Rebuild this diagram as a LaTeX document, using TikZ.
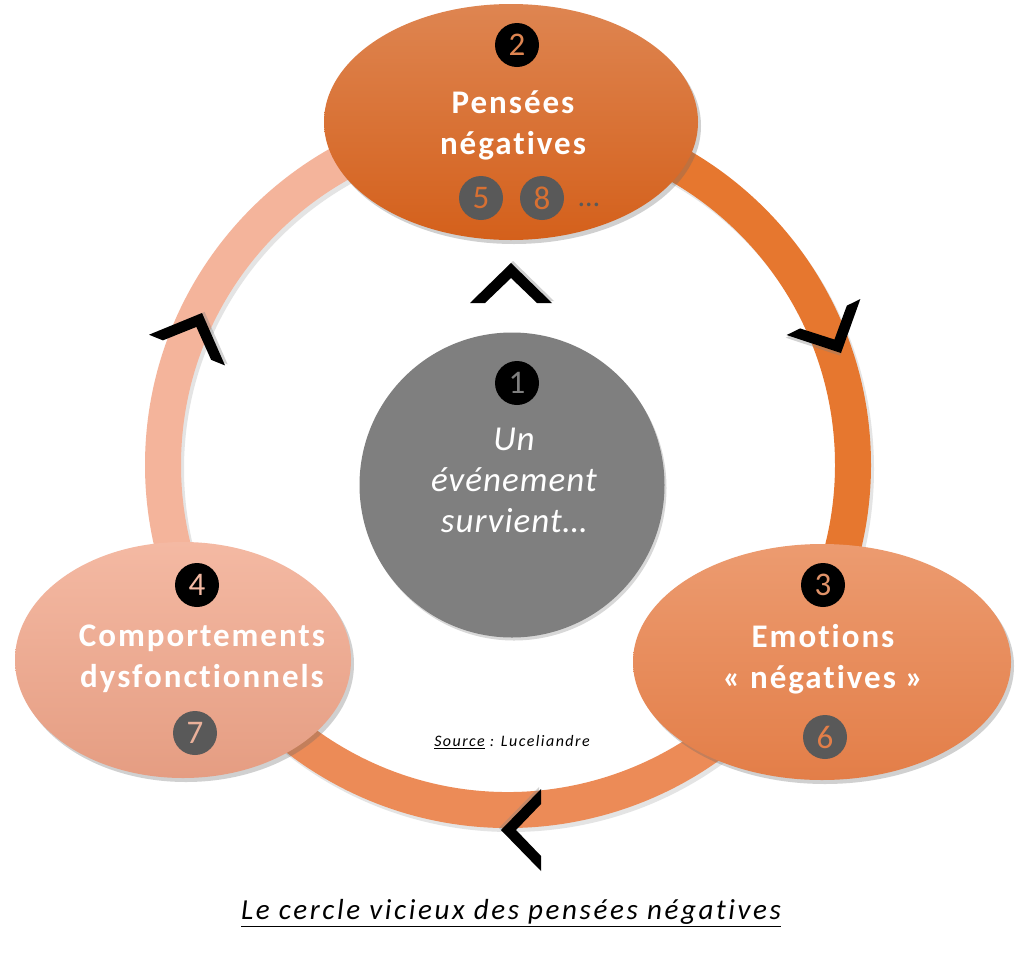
\documentclass[tikz,border=0pt]{standalone}
\usepackage{fontspec}
\setmainfont{Carlito}
\newfontfamily\lblfont[LetterSpace=6,Ligatures=NoCommon]{Carlito}
\newfontfamily\evfont[LetterSpace=3,Ligatures=NoCommon]{Carlito}
\newfontfamily\capfont[LetterSpace=9,Ligatures=NoCommon]{Carlito}
\usetikzlibrary{shapes.geometric,shadows}
\definecolor{ringL}{HTML}{F4B49B}
\definecolor{ringR}{HTML}{E6772F}
\definecolor{ringB}{HTML}{EC8B57}
\definecolor{topT}{HTML}{DE8551}
\definecolor{topB}{HTML}{D4601B}
\definecolor{leftT}{HTML}{F4B9A3}
\definecolor{leftB}{HTML}{E59D82}
\definecolor{rightT}{HTML}{EC9B70}
\definecolor{rightB}{HTML}{E37E48}
\definecolor{midgray}{HTML}{7F7F7F}
\definecolor{darkgray}{HTML}{595959}
\tikzset{
  ring/.style={line width=36pt},
  blob/.style={ellipse, inner sep=0pt,
    drop shadow={shadow xshift=3pt, shadow yshift=-4pt, opacity=.3, fill=black!60}},
  lbl/.style={text=white, align=center, font=\lblfont\fontsize{33}{41}\selectfont\bfseries},
  numb/.style={circle, fill=black, inner sep=0pt, minimum size=44pt,
    font=\fontsize{33}{33}\selectfont},
  numg/.style={numb, fill=darkgray},
  chev/.pic={
    \fill[black!50, opacity=.35, shift={(2,2)}] (-40,41) -- (0,0) -- (-40,-41) -- (-40,-26) -- (-15,0) -- (-40,26) -- cycle;
    \fill[black] (-40,41) -- (0,0) -- (-40,-41) -- (-40,-26) -- (-15,0) -- (-40,26) -- cycle;
  }
}
\begin{document}
\begin{tikzpicture}[x=1pt,y=-1pt]
\useasboundingbox[fill=white] (0,0) rectangle (1028,956);
\coordinate (c) at (508,465);
% ring
\draw[ring, black!30, opacity=.35] (511,469) circle[radius=345];
\draw[ring, ringL] (c) ++(-90:345) arc[start angle=-90, end angle=-212, radius=345];
\draw[ring, ringR] (c) ++(-90:345) arc[start angle=-90, end angle=32, radius=345];
\draw[ring, ringB] (c) ++(32:345) arc[start angle=32, end angle=148, radius=345];
% chevrons on the ring
\pic[rotate=68] at (202,313) {chev};
\pic[rotate=-64] at (841,353) {chev};
\pic[rotate=180] at (501,830) {chev};
% main shapes
\node[blob, minimum width=374pt, minimum height=236pt, top color=topT, bottom color=topB] (pens) at (511,122) {};
\node[blob, minimum width=336pt, minimum height=236pt, top color=leftT, bottom color=leftB] (comp) at (183,660) {};
\node[blob, minimum width=378pt, minimum height=236pt, top color=rightT, bottom color=rightB] (emot) at (822,662) {};
\node[circle, minimum size=305pt, inner sep=0pt, fill=midgray,
  drop shadow={shadow xshift=2pt, shadow yshift=-3pt, opacity=.25, fill=black!60}] (event) at (512,485) {};
\pic[rotate=90] at (511,263) {chev};
% numbers
\node[numb, text=topT] (n2) at (517,45) {2};
\node[numb, text=midgray] (n1) at (517,383) {1};
\node[numb, text=leftT] (n4) at (197,585) {4};
\node[numb, text=rightT!95!black] (n3) at (823,585) {3};
\node[numg, text=topB!90!white] (n5) at (481,198) {5};
\node[numg, text=topB!90!white] (n8) at (542,198) {8};
\node[text=darkgray, font=\fontsize{30}{30}\selectfont] (dots) at (589,205) {\dots};
\node[numg, text=leftB!80!white] (n7) at (195,733) {7};
\node[numg, text=rightB] (n6) at (825,737) {6};
% labels
\node[lbl] (tpens) at (513,125) {Pensées\\négatives};
\node[lbl] (tcomp) at (202,659) {Comportements\\dysfonctionnels};
\node[lbl] (temot) at (823,659) {Emotions\\« négatives »};
\node[text=white, align=center, font=\evfont\fontsize{35}{41}\selectfont\itshape] (tevent) at (514,480) {Un\\événement\\survient…};
\node[font=\capfont\fontsize{16}{20}\selectfont\itshape] (src) at (512,742) {\underline{Source} : Luceliandre};
\node[font=\capfont\fontsize{29}{34}\selectfont\itshape] (cap) at (511,913) {\underline{Le cercle vicieux des pensées négatives}};
\end{tikzpicture}
\end{document}
